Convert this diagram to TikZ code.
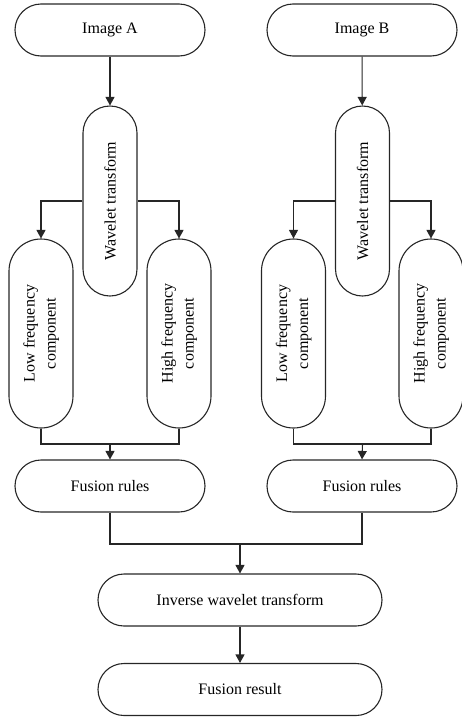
\documentclass[tikz,border=0pt]{standalone}
\usepackage{fontspec}
\setmainfont{Liberation Serif}
\usepackage{graphicx}
\usetikzlibrary{arrows.meta}
\begin{document}
\begin{tikzpicture}[x=1pt,y=-1pt,
  every node/.style={font=\fontsize{16}{21}\selectfont},
  hbox/.style={draw=black!85, line width=1.1pt, inner sep=0pt, minimum width=190pt, minimum height=52pt, rounded corners=26pt},
  wbox/.style={draw=black!85, line width=1.1pt, inner sep=0pt, minimum width=284pt, minimum height=52pt, rounded corners=26pt},
  tbox/.style={draw=black!85, line width=1.1pt, inner sep=0pt, minimum width=54pt, minimum height=190pt, rounded corners=27pt},
  cbox/.style={draw=black!85, line width=1.1pt, inner sep=0pt, minimum width=64pt, minimum height=189pt, rounded corners=32pt},
  conn/.style={draw=black!85, line width=1.1pt},
  arr/.style={conn, -{Triangle[length=8.5pt,width=9pt]}}]
\useasboundingbox (0,0) rectangle (461,718);
% left column
\node[hbox] (imgA) at (110,30) {Image A};
\node[tbox] (wtA) at (110,201) {\rotatebox{90}{Wavelet transform}};
\node[cbox] (lowA) at (41,333.5) {\rotatebox{90}{\begin{tabular}{@{}c@{}}Low frequency\\component\end{tabular}}};
\node[cbox] (highA) at (179,333.5) {\rotatebox{90}{\begin{tabular}{@{}c@{}}High frequency\\component\end{tabular}}};
\node[hbox] (frA) at (110,486) {Fusion rules};
% right column
\node[hbox] (imgB) at (362,30) {Image B};
\node[tbox] (wtB) at (362.5,201) {\rotatebox{90}{Wavelet transform}};
\node[cbox] (lowB) at (293.5,333.5) {\rotatebox{90}{\begin{tabular}{@{}c@{}}Low frequency\\component\end{tabular}}};
\node[cbox] (highB) at (431,333.5) {\rotatebox{90}{\begin{tabular}{@{}c@{}}High frequency\\component\end{tabular}}};
\node[hbox] (frB) at (362,486) {Fusion rules};
% bottom
\node[wbox] (iwt) at (240,600) {Inverse wavelet transform};
\node[wbox] (res) at (240,689.5) {Fusion result};
% junction coordinates
\coordinate (jA) at (110,444);
\coordinate (jB) at (362.5,444);
\coordinate (jC) at (240,544);
% connectors
\draw[arr] (imgA) -- (wtA);
\draw[arr] (wtA.west) -| (lowA.north);
\draw[arr] (wtA.east) -| (highA.north);
\draw[conn] (lowA.south) |- (jA) -| (highA.south);
\draw[arr] (jA) -- (frA.north);
\draw[arr] (imgB) -- (wtB);
\draw[arr] (wtB.west) -| (lowB.north);
\draw[arr] (wtB.east) -| (highB.north);
\draw[conn] (lowB.south) |- (jB) -| (highB.south);
\draw[arr] (jB) -- (frB.north);
\draw[conn] (frA.south) |- (jC) -| (frB.south);
\draw[arr] (jC) -- (iwt.north);
\draw[arr] (iwt) -- (res);
\end{tikzpicture}
\end{document}
